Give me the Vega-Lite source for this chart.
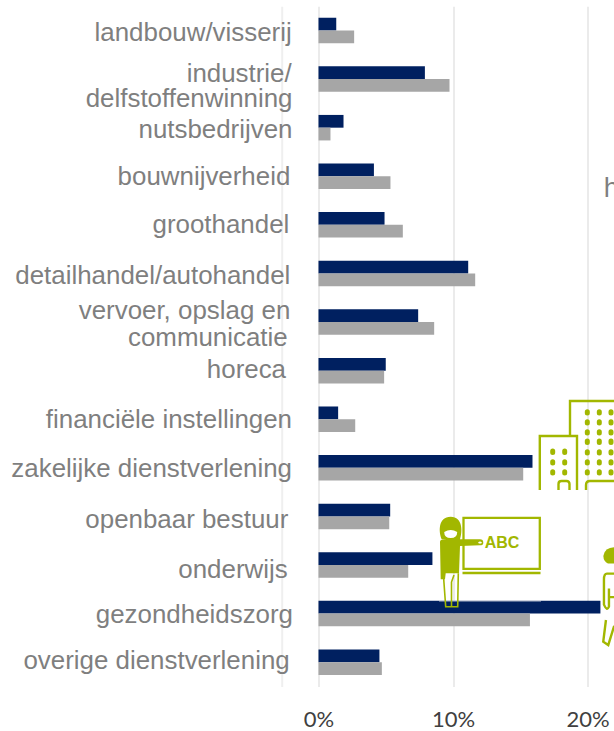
{"$schema":"https://vega.github.io/schema/vega-lite/v6.json","width":295.5,"height":680.3,"autosize":"none","padding":{"left":318.5,"top":6.2,"right":0,"bottom":44.5},"background":"white","config":{"view":{"stroke":null},"text":{"font":"Liberation Sans","fontSize":25.9,"color":"#7f7f7f","align":"right","baseline":"alphabetic"}},
"datasets":{"rows":[
{"sector":"landbouw/visserij","reeks":"A","waarde":1.32},{"sector":"landbouw/visserij","reeks":"B","waarde":2.65},
{"sector":"industrie/ delfstoffenwinning","reeks":"A","waarde":7.91},{"sector":"industrie/ delfstoffenwinning","reeks":"B","waarde":9.74},
{"sector":"nutsbedrijven","reeks":"A","waarde":1.86},{"sector":"nutsbedrijven","reeks":"B","waarde":0.89},
{"sector":"bouwnijverheid","reeks":"A","waarde":4.12},{"sector":"bouwnijverheid","reeks":"B","waarde":5.35},
{"sector":"groothandel","reeks":"A","waarde":4.91},{"sector":"groothandel","reeks":"B","waarde":6.27},
{"sector":"detailhandel/autohandel","reeks":"A","waarde":11.13},{"sector":"detailhandel/autohandel","reeks":"B","waarde":11.65},
{"sector":"vervoer, opslag en communicatie","reeks":"A","waarde":7.41},{"sector":"vervoer, opslag en communicatie","reeks":"B","waarde":8.6},
{"sector":"horeca","reeks":"A","waarde":5.0},{"sector":"horeca","reeks":"B","waarde":4.88},
{"sector":"financiële instellingen","reeks":"A","waarde":1.46},{"sector":"financiële instellingen","reeks":"B","waarde":2.73},
{"sector":"zakelijke dienstverlening","reeks":"A","waarde":15.91},{"sector":"zakelijke dienstverlening","reeks":"B","waarde":15.22},
{"sector":"openbaar bestuur","reeks":"A","waarde":5.33},{"sector":"openbaar bestuur","reeks":"B","waarde":5.26},
{"sector":"onderwijs","reeks":"A","waarde":8.47},{"sector":"onderwijs","reeks":"B","waarde":6.67},
{"sector":"gezondheidszorg","reeks":"A","waarde":20.96},{"sector":"gezondheidszorg","reeks":"B","waarde":15.72},
{"sector":"overige dienstverlening","reeks":"A","waarde":4.53},{"sector":"overige dienstverlening","reeks":"B","waarde":4.71}
]},
"encoding":{
"x":{"field":"waarde","type":"quantitative","scale":{"domain":[0,21.97],"nice":false},"axis":{"title":null,"values":[0,10,20],"labelExpr":"datum.value + '%'","domain":false,"ticks":false,"grid":true,"gridColor":"#ebebeb","gridWidth":2,"labelFont":"Lato","labelFontSize":22,"labelColor":"#404040","labelPadding":23,"labelFlush":false,"labelOverlap":false}},
"y":{"field":"sector","type":"nominal","sort":null,"scale":{"paddingInner":0.475,"paddingOuter":0.2375},"axis":{"title":null,"ticks":false,"grid":false,"labels":false,"domain":true,"domainColor":"#efefef","domainWidth":2,"offset":36.8,"encode":{"domain":{"update":{"y":{"value":-6.2},"y2":{"value":724.8}}}}}}
},
"layer":[
{"data":{"name":"rows"},"mark":{"type":"bar"},"encoding":{"yOffset":{"field":"reeks","sort":["A","B"]},"color":{"field":"reeks","scale":{"domain":["A","B"],"range":["#002060","#a6a6a6"]},"legend":null}}},
{"data":{"values":[{"sector":"landbouw/visserij","waarde":0,"label":"landbouw/visserij"}]},"mark":{"type":"text","dx":-26.8,"dy":10.2},"encoding":{"text":{"field":"label"}}},
{"data":{"values":[{"sector":"industrie/ delfstoffenwinning","waarde":0,"label":"industrie/"}]},"mark":{"type":"text","dx":-26.8,"dy":2.9},"encoding":{"text":{"field":"label"}}},
{"data":{"values":[{"sector":"industrie/ delfstoffenwinning","waarde":0,"label":"delfstoffenwinning"}]},"mark":{"type":"text","dx":-26,"dy":28.2},"encoding":{"text":{"field":"label"}}},
{"data":{"values":[{"sector":"nutsbedrijven","waarde":0,"label":"nutsbedrijven"}]},"mark":{"type":"text","dx":-26,"dy":10.6},"encoding":{"text":{"field":"label"}}},
{"data":{"values":[{"sector":"bouwnijverheid","waarde":0,"label":"bouwnijverheid"}]},"mark":{"type":"text","dx":-28.2,"dy":8.7},"encoding":{"text":{"field":"label"}}},
{"data":{"values":[{"sector":"groothandel","waarde":0,"label":"groothandel"}]},"mark":{"type":"text","dx":-29.2,"dy":8.4},"encoding":{"text":{"field":"label"}}},
{"data":{"values":[{"sector":"detailhandel/autohandel","waarde":0,"label":"detailhandel/autohandel"}]},"mark":{"type":"text","dx":-28.2,"dy":10.6},"encoding":{"text":{"field":"label"}}},
{"data":{"values":[{"sector":"vervoer, opslag en communicatie","waarde":0,"label":"vervoer, opslag en"}]},"mark":{"type":"text","dx":-28.2,"dy":-2.7},"encoding":{"text":{"field":"label"}}},
{"data":{"values":[{"sector":"vervoer, opslag en communicatie","waarde":0,"label":"communicatie"}]},"mark":{"type":"text","dx":-30.8,"dy":24},"encoding":{"text":{"field":"label"}}},
{"data":{"values":[{"sector":"horeca","waarde":0,"label":"horeca"}]},"mark":{"type":"text","dx":-32.5,"dy":7.4},"encoding":{"text":{"field":"label"}}},
{"data":{"values":[{"sector":"financiële instellingen","waarde":0,"label":"financiële instellingen"}]},"mark":{"type":"text","dx":-26.5,"dy":9.1},"encoding":{"text":{"field":"label"}}},
{"data":{"values":[{"sector":"zakelijke dienstverlening","waarde":0,"label":"zakelijke dienstverlening"}]},"mark":{"type":"text","dx":-26.5,"dy":9.5},"encoding":{"text":{"field":"label"}}},
{"data":{"values":[{"sector":"openbaar bestuur","waarde":0,"label":"openbaar bestuur"}]},"mark":{"type":"text","dx":-30.2,"dy":11.9},"encoding":{"text":{"field":"label"}}},
{"data":{"values":[{"sector":"onderwijs","waarde":0,"label":"onderwijs"}]},"mark":{"type":"text","dx":-30.8,"dy":12.7},"encoding":{"text":{"field":"label"}}},
{"data":{"values":[{"sector":"gezondheidszorg","waarde":0,"label":"gezondheidszorg"}]},"mark":{"type":"text","dx":-25.5,"dy":9.7},"encoding":{"text":{"field":"label"}}},
{"data":{"values":[{"sector":"overige dienstverlening","waarde":0,"label":"overige dienstverlening"}]},"mark":{"type":"text","dx":-28.8,"dy":6.8},"encoding":{"text":{"field":"label"}}},
{"data":{"values":[{"sector":"gezondheidszorg","waarde":10}]},"mark":{"type":"point","opacity":1,"filled":false,"size":40000,"stroke":"#d5d9e2","strokeWidth":1,"shape":"M-.14 -.127 H.88"},"encoding":{}},
{"data":{"values":[{"sector":"zakelijke dienstverlening","waarde":18}]},"mark":{"type":"point","opacity":1,"filled":false,"size":40000,"stroke":"#a2b700","strokeWidth":2.4,"shape":"M.094 -.328 V-.668 H.594 M-.208 .222 V-.318 H.164 V.222 M-.021 .222 V.162 Q-.021 .132 .009 .132 H.059 Q.089 .132 .089 .162 V.222 M.254 .222 V.172 Q.254 .132 .294 .132 H.594"},"encoding":{}},
{"data":{"values":[{"sector":"zakelijke dienstverlening","waarde":18}]},"mark":{"type":"point","opacity":1,"filled":false,"size":40000,"stroke":"#a2b700","strokeWidth":5,"strokeCap":"round","shape":"M-.079 -.168 V-.154 M-.079 -.062 V-.048 M-.079 .038 V.052 M.041 -.168 V-.154 M.041 -.062 V-.048 M.041 .038 V.052 M.267 -.562 V-.548 M.267 -.462 V-.448 M.267 -.362 V-.348 M.267 -.268 V-.254 M.267 -.162 V-.148 M.267 -.062 V-.048 M.267 .038 V.052 M.387 -.562 V-.548 M.387 -.462 V-.448 M.387 -.362 V-.348 M.387 -.268 V-.254 M.387 -.162 V-.148 M.387 -.062 V-.048 M.387 .038 V.052 M.504 -.562 V-.548 M.504 -.462 V-.448 M.504 -.362 V-.348 M.504 -.268 V-.254 M.504 -.162 V-.148 M.504 -.062 V-.048 M.504 .038 V.052"},"encoding":{}},
{"data":{"values":[{"sector":"onderwijs","waarde":10}]},"mark":{"type":"point","opacity":1,"filled":false,"size":40000,"stroke":"#a2b700","strokeWidth":2.3,"shape":"M.105 -.472 H.868 V.038 H.105 Z M.095 .08 H.875"},"encoding":{}},
{"data":{"values":[{"sector":"onderwijs","waarde":10}]},"mark":{"type":"point","opacity":1,"filled":true,"size":40000,"fill":"#a2b700","shape":"M-.113 -.257 C-.145 -.33 -.15 -.483 -.023 -.483 C.10 -.483 .095 -.33 .07 -.257 Z M-.13 -.233 Q-.13 -.257 -.063 -.257 L.27 -.257 Q.303 -.257 .303 -.223 Q.303 -.197 .27 -.197 L.07 -.19 L.06 .083 L-.073 .083 L-.08 .143 L-.123 .143 Z"},"encoding":{}},
{"data":{"values":[{"sector":"onderwijs","waarde":10}]},"mark":{"type":"point","opacity":1,"filled":true,"size":40000,"fill":"#ffffff","shape":"M-.088 -.33 Q-.023 -.37 .042 -.33 Q.042 -.27 -.023 -.27 Q-.088 -.27 -.088 -.33 Z M.25 -.223 Q.27 -.245 .29 -.223 Q.27 -.205 .25 -.223 Z"},"encoding":{}},
{"data":{"values":[{"sector":"onderwijs","waarde":10}]},"mark":{"type":"point","opacity":1,"filled":false,"size":40000,"stroke":"#a2b700","strokeWidth":1.6,"shape":"M-.097 .083 L-.073 .417 L.047 .417 L.053 .083 M-.015 .417 L-.015 .17 L.01 .10"},"encoding":{}},
{"data":{"values":[{"sector":"onderwijs","waarde":13.64,"tekst":"ABC"}]},"mark":{"type":"text","font":"Liberation Sans","fontWeight":"bold","fontSize":16,"color":"#a2b700","align":"center","baseline":"middle","dy":-22},"encoding":{"text":{"field":"tekst"}}},
{"data":{"values":[{"sector":"gezondheidszorg","waarde":21}]},"mark":{"type":"point","opacity":1,"filled":true,"size":40000,"fill":"#a2b700","shape":"M.07 -.5 Q.02 -.53 .025 -.58 Q.04 -.663 .14 -.663 L.2 -.663 L.2 -.5 Z"},"encoding":{}},
{"data":{"values":[{"sector":"gezondheidszorg","waarde":21}]},"mark":{"type":"point","opacity":1,"filled":false,"size":40000,"stroke":"#a2b700","strokeWidth":2.4,"shape":"M.14 -.4 L.06 -.4 Q.03 -.4 .03 -.34 L.03 -.09 Q.06 -.02 .08 -.07 L.08 -.25 M.08 -.165 H.2 M.05 .064 L.023 .281 L.073 .314 L.13 .131 L.2 .1"},"encoding":{}},
{"data":{"values":[{"sector":"bouwnijverheid","waarde":21.2,"tekst":"h"}]},"mark":{"type":"text","fontSize":27,"align":"left","dy":20.7},"encoding":{"text":{"field":"tekst"}}}
]}
